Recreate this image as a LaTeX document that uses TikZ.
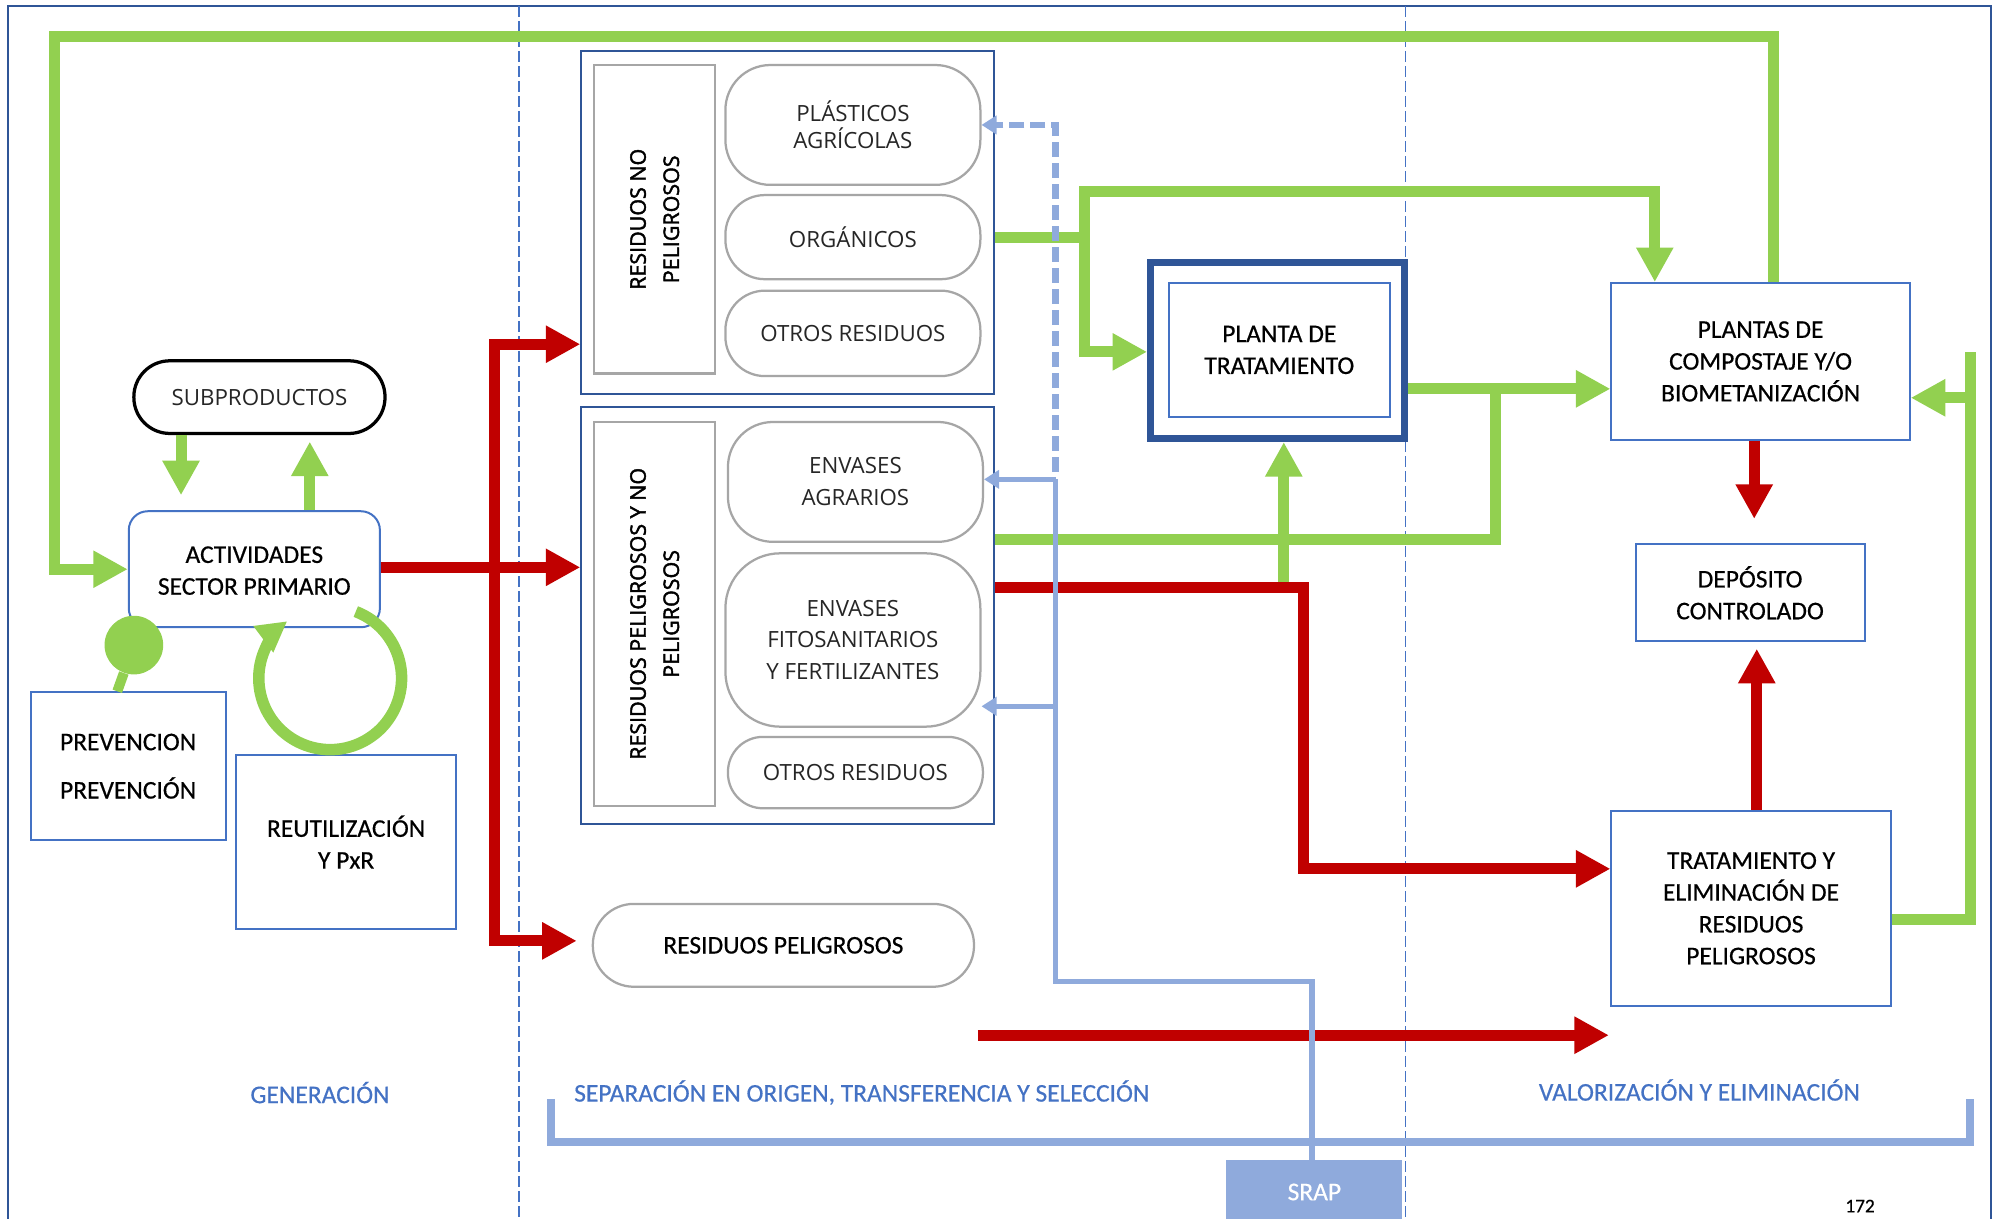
\documentclass[tikz,border=0pt]{standalone}
\usepackage{fontspec}
\setmainfont{Carlito}[FakeBold=0.5]
\newfontfamily\lightfont{Open Sans}
\newfontfamily\labelfont[FakeBold=2]{Open Sans}
\usetikzlibrary{arrows.meta,calc}

\definecolor{grn}{HTML}{92D050}
\definecolor{rd}{HTML}{C00000}
\definecolor{navy}{HTML}{2F5597}
\definecolor{midblue}{HTML}{4472C4}
\definecolor{lightblue}{HTML}{8FAADC}
\definecolor{ovalgray}{HTML}{A6A6A6}

\begin{document}
\begin{tikzpicture}[x=0.0255cm, y=-0.0255cm,
  every node/.style={font=\fontsize{14.5}{18.1}\selectfont, align=center, inner sep=0pt},
  bluebox/.style={draw=midblue, line width=0.04cm, fill=white},
  groupbox/.style={draw=navy, line width=0.04cm, fill=white},
  pill/.style={draw=ovalgray, line width=0.045cm, fill=white, rounded corners=#1,
    font=\lightfont\fontsize{12.7}{15.2}\selectfont, text=black!85},
  labelcol/.style={draw=ovalgray, line width=0.045cm, fill=white, rotate=90,
    font=\labelfont\fontsize{12.2}{18.9}\selectfont},
  greenline/.style={draw=grn, line width=0.22cm},
  greenarrow/.style={greenline, -{Triangle[length=0.69cm,width=0.7cm]}},
  redline/.style={draw=rd, line width=0.22cm},
  redarrow/.style={redline, -{Triangle[length=0.69cm,width=0.7cm]}},
  srapline/.style={draw=lightblue, line width=0.11cm},
  sraparrow/.style={srapline, -{Triangle[length=0.3cm,width=0.36cm]}},
  guide/.style={draw=midblue, line width=0.025cm, dash pattern=on 0.22cm off 0.08cm},
  zone/.style={text=midblue}]

% Unit of the grid
\def\U{0.0255cm}

\useasboundingbox (0,0) rectangle (1568,955.4);

% Page frame and zone guides
\draw[navy, line width=0.04cm] (6,965) |- (1562,5) -- (1562,965);
\draw[guide] (407,5) -- (407,965);
\draw[guide] (1102.5,5) -- (1102.5,965);

% Generation
\node[bluebox, rounded corners=0.38cm, minimum width=197*\U, minimum height=91*\U] (act) at (199.5,446.5) {\\[-0.25cm]ACTIVIDADES\\SECTOR PRIMARIO};
\node[draw=black, line width=0.065cm, fill=white, rounded corners=0.72cm, minimum width=197*\U, minimum height=57*\U,
  font=\lightfont\fontsize{12.7}{15.2}\selectfont, text=black!85] (subp) at (203.5,311.5) {SUBPRODUCTOS};
\node[bluebox, minimum width=153*\U, minimum height=116*\U] (prev) at (100.5,601) {PREVENCION\\[0.33cm]PREVENCIÓN};
\node[bluebox, minimum width=173*\U, minimum height=137*\U] (reut) at (271.5,660.5) {REUTILIZACIÓN\\Y PxR};

% Non hazardous waste
\node[groupbox, minimum width=324*\U, minimum height=269*\U] (rnp) at (618,174.5) {};
\node[labelcol, minimum width=242*\U, minimum height=95*\U] (rnplab) at (513.5,172) {RESIDUOS NO\\PELIGROSOS};
\node[pill=0.9cm, minimum width=200*\U, minimum height=94*\U] (plas) at (669,98) {PLÁSTICOS\\AGRÍCOLAS};
\node[pill=0.79cm, minimum width=200*\U, minimum height=66*\U] (org) at (669,186) {ORGÁNICOS};
\node[pill=0.79cm, minimum width=200*\U, minimum height=67*\U] (otr1) at (669,261.5) {OTROS RESIDUOS};

% Hazardous and non hazardous waste
\node[groupbox, minimum width=324*\U, minimum height=327*\U] (rpnp) at (618,482.5) {};
\node[labelcol, minimum width=301*\U, minimum height=95*\U] (rpnplab) at (513.5,481.5) {RESIDUOS PELIGROSOS Y NO\\PELIGROSOS};
\node[pill=0.9cm, minimum width=200*\U, minimum height=94*\U, font=\lightfont\fontsize{12.7}{18.1}\selectfont] (envag) at (671,378) {ENVASES\\AGRARIOS};
\node[pill=1.1cm, minimum width=200*\U, minimum height=136*\U, font=\lightfont\fontsize{12.7}{18.1}\selectfont] (envfit) at (669,502) {ENVASES\\FITOSANITARIOS\\Y FERTILIZANTES};
\node[pill=0.7cm, minimum width=200*\U, minimum height=56*\U] (otr2) at (671,606) {OTROS RESIDUOS};
\node[pill=0.82cm, minimum width=299*\U, minimum height=65*\U, font=\fontsize{14.5}{18.1}\selectfont, text=black] (rpel) at (614.5,741.5) {RESIDUOS PELIGROSOS};

% Treatment and disposal
\node[draw=navy, line width=0.14cm, fill=white, minimum width=199*\U, minimum height=138*\U] (ptrat) at (1002,275) {};
\node[bluebox, minimum width=173*\U, minimum height=105*\U] (ptratin) at (1003.5,274.5) {PLANTA DE\\TRATAMIENTO};
\node[bluebox, minimum width=234*\U, minimum height=123*\U] (plantas) at (1381,283.5) {PLANTAS DE\\COMPOSTAJE Y/O\\BIOMETANIZACIÓN};
\node[bluebox, minimum width=179.5*\U, minimum height=76*\U] (depo) at (1372.75,465) {DEPÓSITO\\CONTROLADO};
\node[bluebox, minimum width=219*\U, minimum height=153*\U] (trat) at (1373.5,712.5) {TRATAMIENTO Y\\ELIMINACIÓN DE\\RESIDUOS\\PELIGROSOS};
\node[fill=lightblue, minimum width=138*\U, minimum height=50*\U, text=white] (srap) at (1031,935) {SRAP};

% Zone labels
\node[zone] (gen) at (251,857) {GENERACIÓN};
\node[zone] (sep) at (676,857) {SEPARACIÓN EN ORIGEN, TRANSFERENCIA Y SELECCIÓN};
\node[zone] (val) at (1333,855) {VALORIZACIÓN Y ELIMINACIÓN};
\node[font=\fontsize{11}{13}\selectfont] (page) at (1459,946) {172};

% Split points
\coordinate (orgsplit) at (851,186);
\coordinate (redtap) at (1007,460.5);
\coordinate (split) at (388,445);
\coordinate (rpstart) at (767,812);
\coordinate (rpend) at (1262,812);
\coordinate (brl) at (432,862);
\coordinate (brr) at (1545,862);

% Green flows
\draw[greenarrow] (plantas.north -| 1391,0) |- (43,28.5) |- (act.west);
\draw[greenarrow, shorten >=0.3cm] (subp.south -| 142,0) -- (act.north -| 142,0);
\draw[greenarrow, shorten >=0.13cm] (act.north -| 243,0) -- (subp.south -| 243,0);
\draw[greenarrow] (rnp.east |- orgsplit) -- (orgsplit) |- (1298,150) -- (plantas.north -| 1298,0);
\draw[greenarrow] (orgsplit) |- (ptrat.west |- 0,276);
\draw[greenarrow] (ptrat.east |- 0,305) -- (plantas.west |- 0,305);
\draw[greenline] (rpnp.east |- 0,423) -| (1173,305);
\draw[greenarrow] (redtap) -- (ptrat.south -| 1007,0);
\draw[greenline] (trat.east |- 0,721) -| (1546,276);
\draw[greenarrow] (1546,312) -- (plantas.east |- 0,312);

% Red flows
\draw[redarrow] (act.east |- split) -- (rpnp.west |- split);
\draw[redarrow] (split) |- (rnp.west |- 0,270);
\draw[redarrow, shorten >=0.3cm] (split) |- (rpel.west |- 0,738);
\draw[redarrow] (rpnp.east |- redtap) -| (1022.5,681.5) -- (trat.west |- 0,681.5);
\draw[redarrow] (rpstart) -- (rpend);
\draw[redarrow, shorten >=0.49cm] (plantas.south -| 1376,0) -- (depo.north -| 1376,0);
\draw[redarrow, shorten >=0.13cm] (trat.north -| 1378,0) -- (depo.south -| 1378,0);

% SRAP lines
\draw[srapline] (srap.north -| 1029,0) |- (828,770) -- (828,376);
\draw[sraparrow] (828,376) -- (envag.east |- 0,376);
\draw[sraparrow] (828,554) -- (envfit.east |- 0,554);
\draw[sraparrow, line width=0.13cm, dash pattern=on 0.3cm off 0.12cm] (828,370) |- (plas.east);
\draw[srapline, line width=0.16cm] (brl) -- ++(0,34) -| (brr);

% Prevention and reuse
\node[circle, fill=grn, minimum size=46*\U] (ball) at (105,506) {};
\draw[greenline, line width=0.2cm] (prev.north -| 92,0) -- (ball);
\draw[greenline, line width=0.23cm, -{Triangle[length=0.6cm,width=0.62cm]}] (259,532) ++(-69:56) arc[start angle=-69, end angle=233, radius=56];
\end{tikzpicture}
\end{document}
